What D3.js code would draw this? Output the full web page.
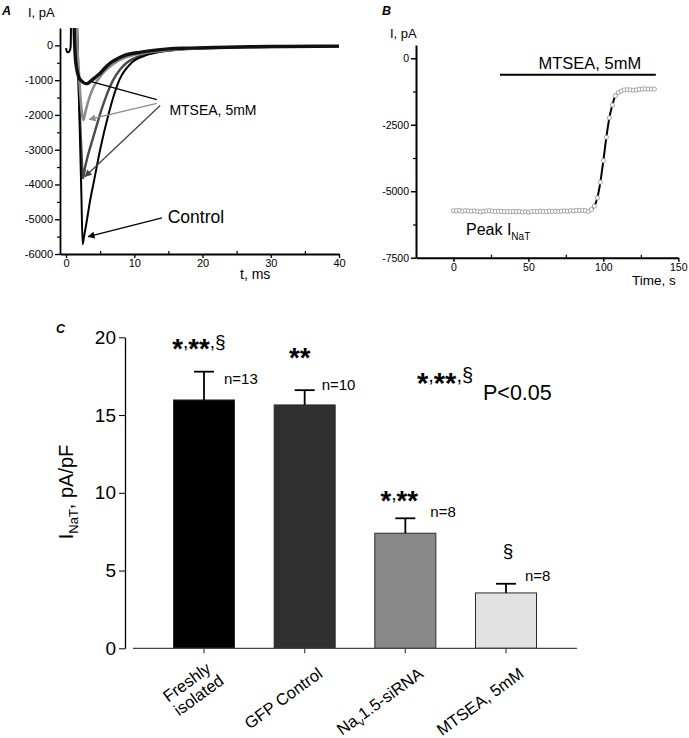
<!DOCTYPE html>
<html><head><meta charset="utf-8">
<script src="https://cdn.jsdelivr.net/npm/d3@7"></script>
<style>body{margin:0;background:#fff}</style>
</head><body>
<script>
const FONT = "'Liberation Sans', Arial, Helvetica, sans-serif";

// ================= Panel A data =================
const aXTicks = [0, 10, 20, 30, 40];
const aXMinor = [5, 15, 25, 35];
const aYTicks = [0, -1000, -2000, -3000, -4000, -5000, -6000];
const aYMinor = [-500, -1500, -2500, -3500, -4500, -5500];
// current traces [time ms, current pA]
const aControl = [[0,-80],[0.15,-190],[0.35,-200],[0.55,-150],[0.68,-40],[0.72,400],[0.75,1200],
  [1.3,3000],[1.65,500],[1.85,-1100],[2.05,-2700],[2.25,-4250],[2.44,-5720],[2.6,-5550],[3.0,-5100],
  [3.5,-4500],[4.1,-3900],[5.0,-3000],[6.2,-2000],[7.8,-1000],[9.6,-500],[11.5,-300],[13.3,-200],
  [16,-130],[20,-80],[25,-50],[30,-40],[35,-30],[40,-30]];
const aMtsea1 = [[1.25,3000],[1.5,500],[1.75,-700],[2.0,-1900],[2.25,-3000],[2.5,-3820],[2.8,-3500],
  [3.3,-3100],[3.9,-2700],[4.5,-2300],[5.2,-1850],[6.0,-1400],[6.9,-1000],[7.9,-700],[8.9,-500],
  [10.5,-330],[12.5,-230],[15,-150],[18,-100],[22,-70],[27,-50],[32,-40],[40,-30]];
const aMtsea2 = [[1.3,3000],[1.55,500],[1.8,-500],[2.05,-1300],[2.3,-1900],[2.55,-2150],[2.8,-1950],
  [3.2,-1650],[3.7,-1350],[4.3,-1100],[5.0,-900],[5.8,-720],[6.5,-600],[7.5,-460],[8.8,-340],
  [10.5,-250],[12.5,-190],[15,-140],[18,-100],[22,-70],[27,-50],[32,-40],[40,-30]];
const aMtsea3 = [[1.0,3000],[1.2,500],[1.35,-300],[1.55,-650],[1.85,-900],[2.3,-1030],[2.9,-1100],
  [3.3,-1080],[3.8,-1000],[4.4,-900],[5.0,-800],[5.7,-650],[6.4,-520],[7.2,-420],[8.4,-300],
  [9.5,-240],[10.8,-200],[12.5,-150],[15,-100],[18,-80],[22,-60],[27,-40],[32,-30],[40,-20]];

// ================= Panel B data =================
const bYTicks = [0, -2500, -5000, -7500];
const bYMinor = [-1250, -3750, -6250];
const bXTicks = [0, 50, 100, 150];
const bXMinor = [25, 75, 125];
const bTime = [0,2,4,6,8,10,12,14,16,18,20,22,24,26,28,30,32,34,36,38,40,42,44,46,48,50,52,54,56,58,
  60,62,64,66,68,70,72,74,76,78,80,82,84,86,88,90,92,94,96,98,100,102,104,106,108,110,112,114,116,118,
  120,122,124,126,128,130,132,134];
const bCurrent = [-5730,-5740,-5720,-5750,-5730,-5740,-5750,-5740,-5760,-5780,-5760,-5740,-5730,-5750,
  -5760,-5750,-5760,-5770,-5760,-5770,-5760,-5770,-5760,-5780,-5770,-5790,-5770,-5760,-5770,-5750,
  -5760,-5770,-5750,-5760,-5750,-5760,-5750,-5740,-5750,-5730,-5740,-5720,-5730,-5720,-5730,-5760,
  -5690,-5560,-5250,-4660,-3850,-2970,-2240,-1760,-1410,-1290,-1230,-1190,-1180,-1190,-1200,-1190,
  -1170,-1160,-1150,-1160,-1150,-1160];

// ================= Panel C data =================
const cCategories = ["Freshly isolated", "GFP Control", "Nav1.5-siRNA", "MTSEA, 5mM"];
const cMeans = [15.97, 15.65, 7.40, 3.56];
const cSem = [1.82, 0.95, 0.96, 0.59];
const cN = ["n=13", "n=10", "n=8", "n=8"];
const cSig = ["*,**,§", "**", "*,**", "§"];
const cYTicks = [0, 5, 10, 15, 20];
const cColors = ["#000000", "#303030", "#888888", "#e2e2e2"];

const svg = d3.select("body").append("svg").attr("width", 689).attr("height", 738)
  .attr("font-family", FONT);

function txt(g, s, x, y, size, opts = {}) {
  return g.append("text").attr("x", x).attr("y", y).attr("font-size", size)
    .attr("text-anchor", opts.anchor || "start").attr("font-weight", opts.weight || "normal")
    .attr("font-style", opts.style || "normal").attr("fill", opts.fill || "#000").text(s);
}
function styleAxis(g, fs, sw) {
  g.attr("font-family", FONT).attr("font-size", fs);
  g.select(".domain").attr("stroke", "#000").attr("stroke-width", sw);
  g.selectAll(".tick line").attr("stroke", "#000").attr("stroke-width", Math.max(1, sw * 0.75));
  g.selectAll(".tick text").attr("fill", "#000");
}
function minor(g, axis) {
  g.call(axis); g.select(".domain").remove();
  g.selectAll(".tick line").attr("stroke", "#000").attr("stroke-width", 1.2);
}

// markers
const defs = svg.append("defs");
[["hBlack", "#000"], ["hGray", "#8c8c8c"], ["hDark", "#444"]].forEach(([id, c]) => {
  defs.append("marker").attr("id", id).attr("viewBox", "0 0 10 10").attr("refX", 9).attr("refY", 5)
    .attr("markerWidth", 9).attr("markerHeight", 7).attr("markerUnits", "userSpaceOnUse")
    .attr("orient", "auto").append("path").attr("d", "M0,0L10,5L0,10Z").attr("fill", c);
});

// ================= Panel A =================
{
  const xA = d3.scaleLinear().domain([-0.88, 40]).range([60, 339]);
  const yA = d3.scaleLinear().domain([-6000, 500]).range([254, 28]);
  defs.append("clipPath").attr("id", "clipA").append("rect")
    .attr("x", 60).attr("y", 28).attr("width", 279).attr("height", 226);
  const line = d3.line().x(d => xA(d[0])).y(d => yA(d[1])).curve(d3.curveMonotoneX);
  const gp = svg.append("g").attr("clip-path", "url(#clipA)");
  const traces = [
    [aMtsea1, "#4a4a4a", 2.4],
    [aControl, "#000", 2],
    [aMtsea2, "#8c8c8c", 2.6],
    [aMtsea3, "#111", 3.4],
  ];
  traces.forEach(([d, c, w]) => gp.append("path").datum(d).attr("d", line)
    .attr("fill", "none").attr("stroke", c).attr("stroke-width", w).attr("stroke-linejoin", "round"));

  const gy = svg.append("g").attr("transform", "translate(60,0)");
  gy.call(d3.axisLeft(yA).tickValues(aYTicks).tickSize(5).tickSizeOuter(0).tickPadding(2).tickFormat(d => String(d)));
  styleAxis(gy, 11, 1.8);
  minor(svg.append("g").attr("transform", "translate(60,0)"),
    d3.axisLeft(yA).tickValues(aYMinor).tickSize(3).tickFormat(""));
  const gx = svg.append("g").attr("transform", "translate(0,254)");
  gx.call(d3.axisBottom(xA).tickValues(aXTicks).tickSize(4).tickSizeOuter(0).tickPadding(1));
  styleAxis(gx, 11, 1.8);
  minor(svg.append("g").attr("transform", "translate(0,254)"),
    d3.axisTop(xA).tickValues(aXMinor).tickSize(3).tickFormat(""));

  // annotation arrows
  const arrows = [
    [[13.3, -1560], [3.7, -1040], "#000", null],
    [[13.3, -1670], [3.4, -2130], "#8c8c8c", "hGray"],
    [[13.8, -1730], [2.8, -3770], "#444", "hDark"],
    [[14.06, -4960], [3.25, -5500], "#000", "hBlack"],
  ];
  arrows.forEach(([a, b, c, m]) => {
    const l = svg.append("line").attr("x1", xA(a[0])).attr("y1", yA(a[1]))
      .attr("x2", xA(b[0])).attr("y2", yA(b[1])).attr("stroke", c).attr("stroke-width", 1.3);
    if (m) l.attr("marker-end", `url(#${m})`);
  });
  txt(svg, "MTSEA, 5mM", xA(15.15), yA(-1990), 14);
  txt(svg, "Control", xA(14.9), yA(-5120), 17.5);
  txt(svg, "A", 2, 15, 12.5, { weight: "bold", style: "italic" });
  txt(svg, "I, pA", 28, 17, 13);
  txt(svg, "t, ms", 240, 279, 14);
}

// ================= Panel B =================
{
  const xB = d3.scaleLinear().domain([-25, 150]).range([416, 678.3]);
  const yB = d3.scaleLinear().domain([-7500, 500]).range([257.7, 45]);
  const pts = bTime.map((t, i) => [t, bCurrent[i]]);
  const fit = pts.filter(d => d[0] >= 92 && d[0] <= 112);
  svg.append("path").datum(fit)
    .attr("d", d3.line().x(d => xB(d[0])).y(d => yB(d[1])).curve(d3.curveMonotoneX))
    .attr("fill", "none").attr("stroke", "#000").attr("stroke-width", 2);
  svg.append("g").selectAll("circle").data(pts).join("circle")
    .attr("cx", d => xB(d[0])).attr("cy", d => yB(d[1])).attr("r", 2.1)
    .attr("fill", "#fff").attr("stroke", "#9a9a9a").attr("stroke-width", 0.9);

  const gy = svg.append("g").attr("transform", "translate(416,0)");
  gy.call(d3.axisLeft(yB).tickValues(bYTicks).tickSize(5).tickSizeOuter(0).tickPadding(2).tickFormat(d => String(d)));
  styleAxis(gy, 10.5, 2);
  minor(svg.append("g").attr("transform", "translate(416,0)"),
    d3.axisLeft(yB).tickValues(bYMinor).tickSize(3).tickFormat(""));
  const gx = svg.append("g").attr("transform", "translate(0,257.7)");
  gx.call(d3.axisBottom(xB).tickValues(bXTicks).tickSize(4).tickSizeOuter(0).tickPadding(2));
  styleAxis(gx, 10.5, 2);
  minor(svg.append("g").attr("transform", "translate(0,257.7)"),
    d3.axisTop(xB).tickValues(bXMinor).tickSize(3).tickFormat(""));

  // MTSEA application bar
  svg.append("line").attr("x1", xB(31)).attr("x2", xB(135)).attr("y1", yB(-620)).attr("y2", yB(-620))
    .attr("stroke", "#000").attr("stroke-width", 2);
  txt(svg, "MTSEA, 5mM", xB(91), yB(-410), 16.5, { anchor: "middle" });
  const pk = txt(svg, "Peak I", 466, 235, 16);
  pk.append("tspan").attr("font-size", 10).attr("dy", 5).text("NaT");
  txt(svg, "B", 382, 15, 12.5, { weight: "bold", style: "italic" });
  txt(svg, "I, pA", 390, 38, 13);
  txt(svg, "Time, s", 632, 285, 13.5);
}

// ================= Panel C =================
{
  const yC = d3.scaleLinear().domain([0, 20]).range([648.3, 337.3]);
  const xC = d3.scalePoint().domain(cCategories).range([204, 506]);
  const bw = 61;
  const g = svg.append("g");

  g.selectAll("rect").data(cCategories).join("rect")
    .attr("x", d => xC(d) - bw / 2).attr("width", bw)
    .attr("y", (d, i) => yC(cMeans[i])).attr("height", (d, i) => yC(0) - yC(cMeans[i]))
    .attr("fill", (d, i) => cColors[i]).attr("stroke", "#2a2a2a").attr("stroke-width", 1);
  // error bars (upper only)
  cCategories.forEach((c, i) => {
    const x = xC(c), y0 = yC(cMeans[i]), y1 = yC(cMeans[i] + cSem[i]);
    g.append("line").attr("x1", x).attr("x2", x).attr("y1", y0).attr("y2", y1)
      .attr("stroke", "#000").attr("stroke-width", 1.8);
    g.append("line").attr("x1", x - 10).attr("x2", x + 10).attr("y1", y1).attr("y2", y1)
      .attr("stroke", "#000").attr("stroke-width", 1.8);
  });

  // axes
  const gy = svg.append("g").attr("transform", "translate(125,0)");
  gy.call(d3.axisLeft(yC).tickValues(cYTicks).tickSize(6).tickSizeOuter(0).tickPadding(3));
  styleAxis(gy, 19, 1.3);
  const x0 = xC(cCategories[0]) - 71, x1 = xC(cCategories[3]) + 71;
  svg.append("line").attr("x1", x0).attr("x2", x1).attr("y1", yC(0)).attr("y2", yC(0))
    .attr("stroke", "#444").attr("stroke-width", 1.3);
  cCategories.forEach(c => svg.append("line").attr("x1", xC(c)).attr("x2", xC(c))
    .attr("y1", yC(0)).attr("y2", yC(0) + 5).attr("stroke", "#444").attr("stroke-width", 1.2));

  // category labels (rotated)
  function rotLabel(parts, x, y) {
    const t = svg.append("text").attr("transform", `translate(${x},${y}) rotate(-36)`)
      .attr("text-anchor", "end").attr("font-size", 16.5).attr("fill", "#000");
    let sh = 0;
    parts.forEach(p => {
      const target = p.sub ? 4 : 0;
      t.append("tspan").attr("dy", target - sh).attr("font-size", p.sub ? 11 : 16.5).text(p.t);
      sh = target;
    });
  }
  const tk = cCategories.map(c => xC(c));
  rotLabel([{ t: "Freshly" }], tk[0] + 8, 671);
  rotLabel([{ t: "isolated" }], tk[0] + 21, 683);
  rotLabel([{ t: "GFP Control" }], tk[1] + 19, 676);
  rotLabel([{ t: "Na" }, { t: "v", sub: true }, { t: "1.5-siRNA" }], tk[2] + 19, 676);
  rotLabel([{ t: "MTSEA, 5mM" }], tk[3] + 19, 676);

  // y label
  const yl = svg.append("text").attr("transform", "translate(73,492) rotate(-90)")
    .attr("text-anchor", "middle").attr("font-size", 20).attr("fill", "#000");
  yl.append("tspan").text("I");
  yl.append("tspan").attr("font-size", 13).attr("dy", 5).text("NaT");
  yl.append("tspan").attr("dy", -5).text(", pA/pF");

  // significance marks
  function sig(str, x, y, size) {
    const t = svg.append("text").attr("x", x).attr("y", y).attr("text-anchor", "middle").attr("fill", "#000");
    let sh = 0;
    for (const ch of str) {
      const star = ch === "*";
      const target = star ? size * 0.55 : 0;
      t.append("tspan").attr("dy", target - sh).attr("font-size", star ? size * 1.45 : size)
        .attr("font-weight", star ? "bold" : "normal").text(ch);
      sh = target;
    }
  }
  const sigY = [19.31, 18.77, 9.54, 5.87];
  const sigDx = [-5, -5, -6, 2];
  const nY = [17.0, 16.62, 8.44, 4.33];
  const nDx = [20, 17, 25, 19];
  cCategories.forEach((c, i) => {
    sig(cSig[i], xC(c) + sigDx[i], yC(sigY[i]), 19);
    txt(svg, cN[i], xC(c) + nDx[i], yC(nY[i]), 15);
  });
  sig("*,**,§", 445, 382, 20);
  txt(svg, "P<0.05", 483, 400, 21.5);
  txt(svg, "C", 56, 333, 12.5, { weight: "bold", style: "italic" });
}
</script>
</body></html>
